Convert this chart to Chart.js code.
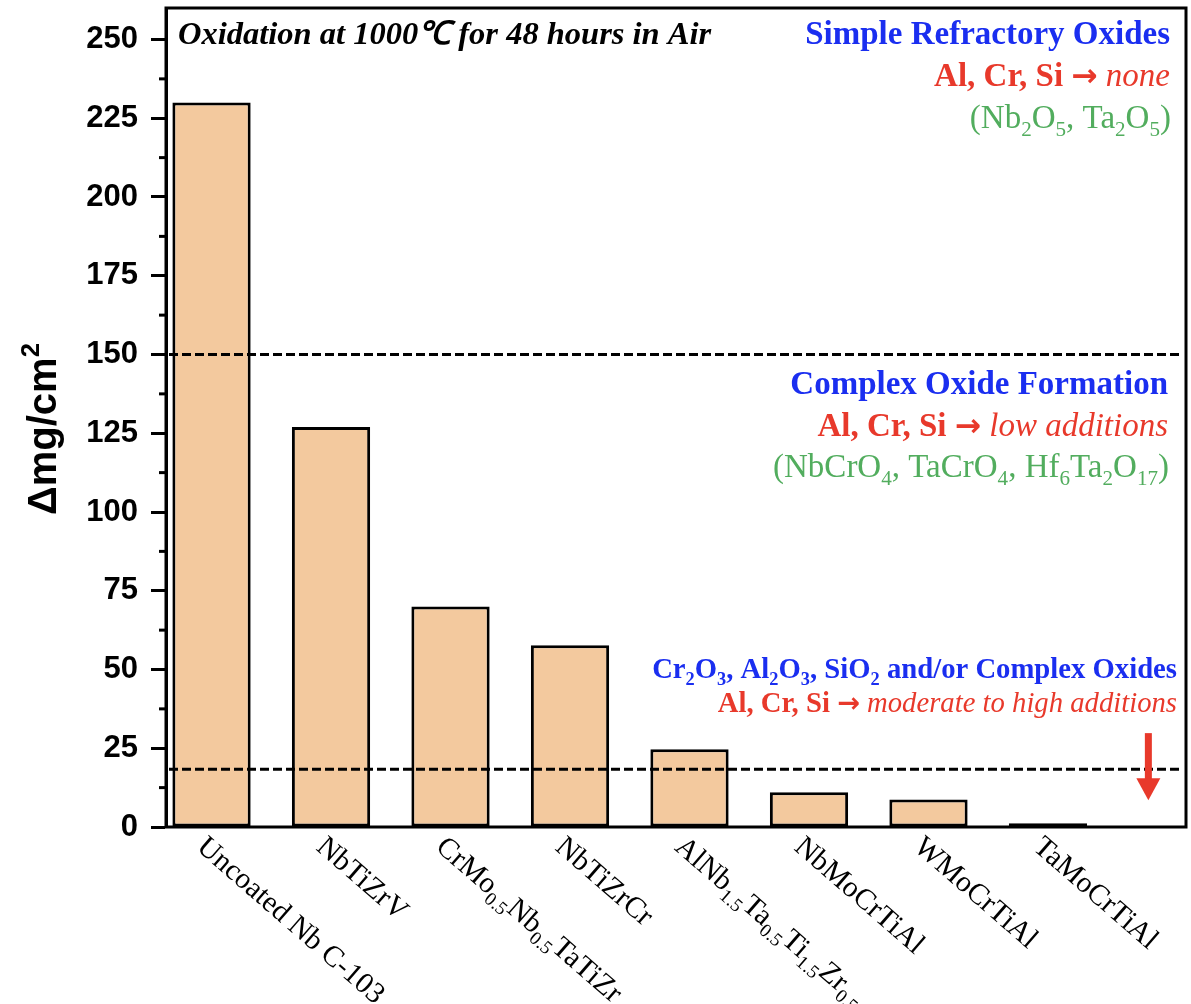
<!DOCTYPE html>
<html>
<head>
<meta charset="utf-8">
<script src="https://cdn.jsdelivr.net/npm/chart.js@4/dist/chart.umd.min.js"></script>
<style>
  html, body { margin: 0; padding: 0; background: #fff; }
  canvas { display: block; }
</style>
</head>
<body>
<canvas id="myChart" width="1191" height="1004"></canvas>
<script>
// data
const alloys = ['Uncoated Nb C-103', 'NbTiZrV', 'CrMo_{0.5}Nb_{0.5}TaTiZr', 'NbTiZrCr',
    'AlNb_{1.5}Ta_{0.5}Ti_{1.5}Zr_{0.5}', 'NbMoCrTiAl', 'WMoCrTiAl', 'TaMoCrTiAl'];
const massGain = [230, 127, 70, 57.7, 24.7, 11, 8.7, 1.2];
const yTicks = [0, 25, 50, 75, 100, 125, 150, 175, 200, 225, 250];
const regimeLines = [150, 18.3];

const SERIF = "'Liberation Serif', 'Times New Roman', serif";
const SANS = "'Liberation Sans', Arial, sans-serif";
const ARROW_FONT = "'DejaVu Sans', sans-serif";
const BLUE = '#1a2ef0';
const RED = '#e8392b';
const GREEN = '#52ad5e';
const BAR = 'rgb(243, 201, 158)';

// "_{..}" -> subscript, "^{..}" -> superscript
function parseMarkup(str, base) {
    const segs = [];
    const re = /([_^])\{([^}]*)\}/g;
    let last = 0, m;
    while ((m = re.exec(str))) {
        if (m.index > last) segs.push(Object.assign({ t: str.slice(last, m.index) }, base));
        segs.push(Object.assign({ t: m[2], sub: m[1] === '_', sup: m[1] === '^' }, base));
        last = re.lastIndex;
    }
    if (last < str.length) segs.push(Object.assign({ t: str.slice(last) }, base));
    return segs;
}

function fontOf(s, size, family) {
    const sz = (s.sub || s.sup) ? size * 0.64 : size * (s.scale || 1);
    return (s.italic ? 'italic ' : '') + (s.bold ? 'bold ' : '') + sz + 'px ' + (s.family || family);
}

function drawRich(ctx, segs, x, y, size, family, align) {
    let w = 0;
    segs.forEach(s => { ctx.font = fontOf(s, size, family); w += ctx.measureText(s.t).width; });
    let cx = align === 'right' ? x - w : x;
    ctx.textBaseline = 'alphabetic';
    ctx.textAlign = 'left';
    segs.forEach(s => {
        ctx.font = fontOf(s, size, family);
        ctx.fillStyle = s.color || '#000';
        const dy = s.sub ? size * 0.24 : (s.sup ? -size * 0.42 : 0);
        ctx.fillText(s.t, cx, y + dy);
        cx += ctx.measureText(s.t).width;
    });
    return w;
}

function redLine(rest) {
    return [
        { t: 'Al, Cr, Si ', bold: true, color: RED },
        { t: '\u2192', bold: true, color: RED, family: ARROW_FONT, scale: 0.95 },
        { t: ' ' + rest, italic: true, color: RED }
    ];
}

const notes = [
    { y: 44, x: 1170, size: 33, segs: [{ t: 'Simple Refractory Oxides', bold: true, color: BLUE }] },
    { y: 86, x: 1170, size: 33, segs: redLine('none') },
    { y: 128, x: 1171, size: 33, segs: parseMarkup('(Nb_{2}O_{5}, Ta_{2}O_{5})', { color: GREEN }) },
    { y: 394, x: 1168, size: 33, segs: [{ t: 'Complex Oxide Formation', bold: true, color: BLUE }] },
    { y: 436, x: 1168, size: 33, segs: redLine('low additions') },
    { y: 477, x: 1169, size: 33, segs: parseMarkup('(NbCrO_{4}, TaCrO_{4}, Hf_{6}Ta_{2}O_{17})', { color: GREEN }) },
    { y: 678, x: 1177, size: 28.7, segs: parseMarkup('Cr_{2}O_{3}, Al_{2}O_{3}, SiO_{2} and/or Complex Oxides', { bold: true, color: BLUE }) },
    { y: 712, x: 1177, size: 28.7, segs: redLine('moderate to high additions') }
];

const decorations = {
    id: 'decorations',
    afterDatasetsDraw(chart) {
        const ctx = chart.ctx;
        const area = chart.chartArea;
        const xs = chart.scales.x;
        const ys = chart.scales.y;
        ctx.save();

        // dashed regime boundaries
        ctx.strokeStyle = '#000';
        ctx.lineWidth = 3;
        ctx.setLineDash([9, 4]);
        regimeLines.forEach(v => {
            const py = ys.getPixelForValue(v);
            ctx.beginPath();
            ctx.moveTo(area.left + 3, py);
            ctx.lineTo(area.right - 3, py);
            ctx.stroke();
        });
        ctx.setLineDash([]);

        // frame
        ctx.lineWidth = 3;
        ctx.strokeRect(area.left, area.top, area.right - area.left, area.bottom - area.top);

        // minor ticks
        for (let v = 12.5; v < ys.max; v += 25) {
            const py = ys.getPixelForValue(v);
            ctx.beginPath();
            ctx.moveTo(area.left - 7, py);
            ctx.lineTo(area.left, py);
            ctx.stroke();
        }

        // header
        drawRich(ctx, [{ t: 'Oxidation at 1000\u2103 for 48 hours in Air', bold: true, italic: true }],
            area.left + 12, 44, 32.5, SERIF, 'left');

        notes.forEach(n => drawRich(ctx, n.segs, n.x, n.y, n.size, SERIF, 'right'));

        // red arrow
        const ax = xs.getPixelForValue(7.84);
        const aTop = ys.getPixelForValue(29.8);
        const aHead = ys.getPixelForValue(15.5);
        const aTip = ys.getPixelForValue(8.5);
        ctx.fillStyle = RED;
        ctx.fillRect(ax - 3.5, aTop, 7, aHead - aTop + 1);
        ctx.beginPath();
        ctx.moveTo(ax - 12, aHead);
        ctx.lineTo(ax + 12, aHead);
        ctx.lineTo(ax, aTip);
        ctx.closePath();
        ctx.fill();

        // x labels, rotated
        alloys.forEach((name, i) => {
            const cx = xs.getPixelForValue(i);
            ctx.save();
            ctx.translate(cx - 16, area.bottom + 22);
            ctx.rotate(41 * Math.PI / 180);
            drawRich(ctx, parseMarkup(name, {}), 0, 0, 29.5, SERIF, 'left');
            ctx.restore();
        });

        // y title
        ctx.save();
        const tSegs = parseMarkup('\u0394mg/cm^{2}', { bold: true });
        ctx.translate(56, 515);
        ctx.rotate(-Math.PI / 2);
        drawRich(ctx, tSegs, 0, 0, 40, SANS, 'left');
        ctx.restore();

        ctx.restore();
    }
};

const ctx = document.getElementById('myChart');

new Chart(ctx, {
    type: 'bar',
    data: {
        datasets: [{
            label: 'Mass gain',
            data: massGain.map((v, i) => ({ x: i, y: v })),
            backgroundColor: BAR,
            borderColor: '#000',
            borderWidth: 3,
            borderSkipped: false,
            categoryPercentage: 1,
            barPercentage: 0.655
        }]
    },
    options: {
        responsive: false,
        animation: false,
        layout: { padding: { top: 8, right: 5, left: 0, bottom: 0 } },
        plugins: {
            legend: { display: false },
            tooltip: { enabled: false }
        },
        scales: {
            x: {
                type: 'linear',
                offset: false,
                min: -0.381,
                max: 8.155,
                ticks: { display: false },
                grid: { display: false, offset: false },
                border: { display: false },
                afterFit(scale) {
                    scale.height = 177;
                    scale.paddingLeft = 0;
                    scale.paddingRight = 0;
                }
            },
            y: {
                min: 0,
                max: 260,
                afterBuildTicks(scale) { scale.ticks = yTicks.map(v => ({ value: v })); },
                ticks: {
                    stepSize: 25,
                    includeBounds: false,
                    padding: 13,
                    color: '#000',
                    font: { family: SANS, size: 31, weight: 'bold' }
                },
                grid: {
                    drawOnChartArea: false,
                    drawTicks: true,
                    tickLength: 15,
                    tickWidth: 3,
                    tickColor: '#000'
                },
                border: { display: true, color: '#000', width: 3 },
                afterFit(scale) {
                    scale.width = 166;
                    scale.paddingTop = 0;
                    scale.paddingBottom = 0;
                }
            }
        }
    },
    plugins: [decorations]
});
</script>
</body>
</html>
